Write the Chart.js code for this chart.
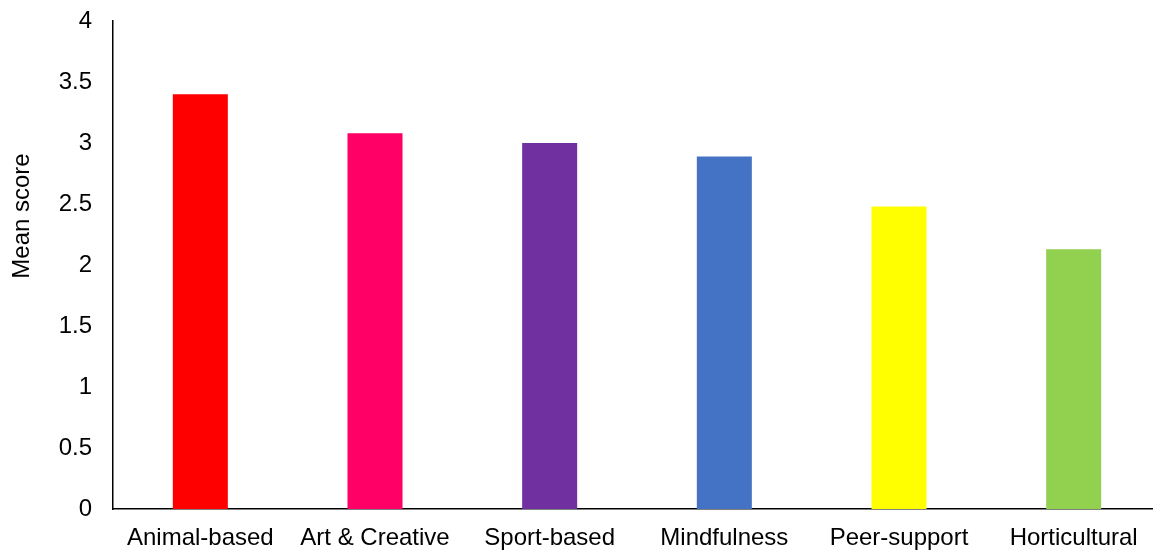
<!DOCTYPE html>
<html>
<head>
<meta charset="utf-8">
<script src="https://cdn.jsdelivr.net/npm/chart.js@4.4.1/dist/chart.umd.min.js"></script>
<style>
  html, body { margin: 0; padding: 0; background: #fff; overflow: hidden; }
  #wrap { width: 1161px; height: 550px; }
</style>
</head>
<body>
<div id="wrap"><canvas id="meanChart" width="1161" height="550"></canvas></div>
<script>
// data
const categories = ['Animal-based', 'Art & Creative', 'Sport-based', 'Mindfulness', 'Peer-support', 'Horticultural'];
const meanScores = [3.40, 3.08, 3.00, 2.89, 2.48, 2.13];
const barColors = ['#FF0000', '#FF0066', '#7030A0', '#4472C4', '#FFFF00', '#92D050'];
const yMin = 0;
const yMax = 4;
const yStep = 0.5;
const yTitle = 'Mean score';

const fontFamily = "'Liberation Sans', Arial, sans-serif";

// the y title sits a bit above the middle of the axis in the original,
// so it is drawn here instead of using the scale title
const yTitlePlugin = {
    id: 'yTitle',
    afterDraw(chart) {
        const c = chart.ctx;
        c.save();
        c.translate(22, 216);
        c.rotate(-Math.PI / 2);
        c.font = '24px ' + fontFamily;
        c.fillStyle = '#000';
        c.textAlign = 'center';
        c.textBaseline = 'middle';
        c.fillText(yTitle, 0, 0);
        c.restore();
    }
};

const ctx = document.getElementById('meanChart').getContext('2d');
new Chart(ctx, {
    type: 'bar',
    data: {
        labels: categories,
        datasets: [{
            data: meanScores,
            backgroundColor: barColors,
            borderWidth: 0,
            barPercentage: 0.315,
            categoryPercentage: 1.0
        }]
    },
    options: {
        responsive: false,
        animation: false,
        layout: {
            padding: { left: 8, top: 0, right: 0, bottom: 0 }
        },
        plugins: {
            legend: { display: false },
            tooltip: { enabled: false }
        },
        scales: {
            x: {
                grid: { display: false },
                border: { display: true, color: '#000', width: 1.5 },
                ticks: {
                    color: '#000',
                    font: { family: fontFamily, size: 24 },
                    padding: 7,
                    maxRotation: 0,
                    autoSkip: false
                },
                afterFit: function(scale) {
                    scale.height = 41;
                }
            },
            y: {
                min: yMin,
                max: yMax,
                grid: { display: false },
                border: { display: true, color: '#000', width: 1.5 },
                ticks: {
                    stepSize: yStep,
                    color: '#000',
                    font: { family: fontFamily, size: 24 },
                    padding: 13,
                    callback: function(value) { return String(value); }
                },
                afterFit: function(scale) {
                    scale.width = 105;
                    scale.paddingTop = 21;
                }
            }
        }
    },
    plugins: [yTitlePlugin]
});
</script>
</body>
</html>
